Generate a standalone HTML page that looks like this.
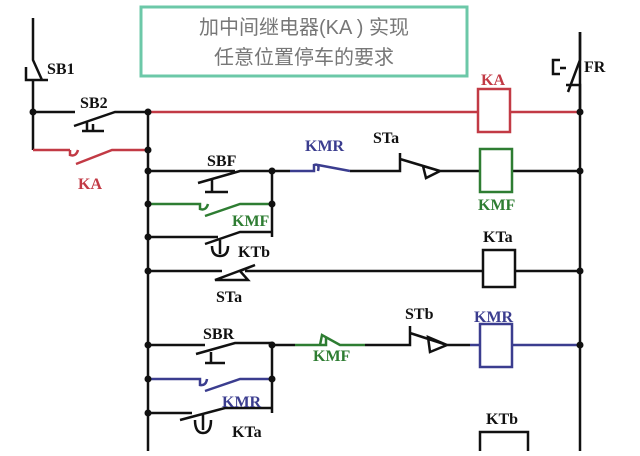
<!DOCTYPE html>
<html><head><meta charset="utf-8"><style>
body{margin:0;background:#fff;width:640px;height:451px;overflow:hidden}
svg text{font-family:"Liberation Serif",serif;font-weight:bold;font-size:16px}
.t{font-family:"Liberation Sans","Noto Sans CJK SC",sans-serif;font-weight:normal;font-size:20px;fill:#777}
</style></head><body>
<svg width="640" height="451" viewBox="0 0 640 451" xmlns="http://www.w3.org/2000/svg">
<rect x="141" y="7" width="326" height="69" fill="#fff" stroke="#6cc8a8" stroke-width="3"/>
<text class="t" x="304" y="34" text-anchor="middle">加中间继电器(KA ) 实现</text>
<text class="t" x="304" y="64" text-anchor="middle">任意位置停车的要求</text>
<g fill="none" stroke="#111" stroke-width="2.5">
<path d="M33 18 V60 L42 80 M33 80 V150 M26 67 V80 H48 M33 112 H75 M74 126 L115 112 H148 M87 122 V131 M82 131 H104 M93 131 V124"/>
<path d="M148 112 V451 M580 32 V451"/>
<path d="M580 32 V60 L568 92 M566 85 H580 V112 M560 60 H553 V74 H560 M560 68 H566"/>
<path d="M148 171 H235 M198 183 L240 171 H272 V237 M212 179 V192 M205 192 H228 M272 171 H290"/>
<path d="M350 171 H400 V153 M400 159 L440 171 M440 171 L423 166 L426 178 Z M440 171 H480 M512 171 H580"/>
<path d="M148 237 H218 M205 244 L240 232 H272 M220 240 V254 M212 246 Q212 256 220 256 Q228 256 228 246"/>
<path d="M148 271 H222 M215 280 L255 265 L240 271 L248 280 Z M245 271 H483 M515 271 H580"/>
<path d="M148 345 H205 M196 354 L235 343 H272 V413 M211 352 V363 M205 363 H225 M272 345 H295 M365 345 H410 V326 M410 333 L447 345 M447 345 L428 337 L430 352 Z M447 345 H470"/>
<path d="M148 413 H192 M180 420 L225 408 H272 M203 415 V430 M195 420 Q195 433 203 433 Q211 433 211 420"/>
<path d="M480 451 V432 H528 V451"/>
</g>
<g fill="none" stroke="#c23a45" stroke-width="2.5">
<path d="M148 112 H478 M510 112 H580 M33 150 H70 M70 150 V155 Q76 157 78 150 M76 164 L112 150 H148"/>
<rect x="478" y="89" width="32" height="43"/>
</g>
<g fill="none" stroke="#2e7d32" stroke-width="2.5">
<path d="M148 204 H200 V209 Q206 211 208 204 M205 216 L240 204 H272 M295 345 H320 M320 345 L322 335 L340 345 H365 M316 345 H326 V338"/>
<rect x="480" y="149" width="32" height="43"/>
</g>
<g fill="none" stroke="#3b3d8f" stroke-width="2.5">
<path d="M290 171 H314 V165 Q320 163 318 171 M318 165 L350 171 M148 379 H200 V385 Q206 386 207 379 M205 391 L240 379 H272 M470 345 H480 M512 345 H580"/>
<rect x="480" y="324" width="32" height="43"/>
</g>
<rect x="483" y="250" width="32" height="37" fill="none" stroke="#111" stroke-width="2.5"/>
<g fill="#111">
<circle cx="33" cy="112" r="3.5"/><circle cx="148" cy="112" r="3.5"/><circle cx="148" cy="150" r="3.5"/>
<circle cx="148" cy="171" r="3.5"/><circle cx="272" cy="171" r="3.5"/><circle cx="148" cy="204" r="3.5"/><circle cx="272" cy="204" r="3.5"/>
<circle cx="148" cy="237" r="3.5"/><circle cx="148" cy="271" r="3.5"/><circle cx="580" cy="112" r="3.5"/><circle cx="580" cy="171" r="3.5"/><circle cx="580" cy="271" r="3.5"/>
<circle cx="148" cy="345" r="3.5"/><circle cx="272" cy="345" r="3.5"/><circle cx="148" cy="379" r="3.5"/><circle cx="272" cy="379" r="3.5"/><circle cx="148" cy="413" r="3.5"/><circle cx="580" cy="345" r="3.5"/>
</g>
<g fill="#111">
<text x="47" y="74">SB1</text><text x="80" y="108">SB2</text><text x="207" y="166">SBF</text>
<text x="373" y="143">STa</text><text x="238" y="257">KTb</text><text x="483" y="242">KTa</text>
<text x="216" y="302">STa</text><text x="203" y="339">SBR</text><text x="405" y="319">STb</text>
<text x="232" y="437">KTa</text><text x="486" y="424">KTb</text><text x="584" y="72">FR</text>
</g>
<g fill="#c23a45"><text x="78" y="189" font-size="18">KA</text><text x="481" y="85" font-size="18">KA</text></g>
<g fill="#2e7d32"><text x="478" y="210">KMF</text><text x="232" y="226">KMF</text><text x="313" y="361">KMF</text></g>
<g fill="#3b3d8f"><text x="305" y="151">KMR</text><text x="474" y="322">KMR</text><text x="222" y="407">KMR</text></g>
</svg>
</body></html>
